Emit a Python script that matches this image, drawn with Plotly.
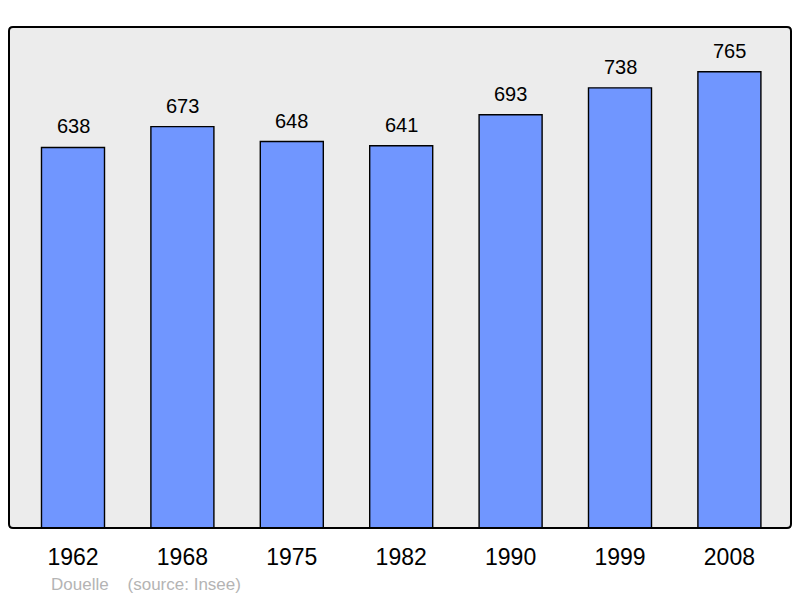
import plotly.graph_objects as go

years = ["1962", "1968", "1975", "1982", "1990", "1999", "2008"]
population = [638, 673, 648, 641, 693, 738, 765]

fig = go.Figure()
fig.add_trace(go.Bar(
    x=years, y=population,
    width=0.576,
    marker=dict(color="#7096ff", line=dict(color="#000000", width=1.4)),
    hoverinfo="skip",
))

for i, v in enumerate(population):
    fig.add_annotation(x=i, y=v, text=str(v), showarrow=False,
                       yanchor="middle", yshift=21,
                       font=dict(family="Liberation Sans, Arial", size=20, color="#000"))

fig.add_annotation(xref="paper", yref="paper", x=0.0512, y=-0.113,
                   xanchor="left", yanchor="middle", showarrow=False,
                   text="Douelle&nbsp;&nbsp;&nbsp;&nbsp;(source: Insee)",
                   font=dict(family="Liberation Sans, Arial", size=17, color="#b4b4b4"))

# rounded frame around the plot area (paper coordinates)
rx, ry = 4 / 782, 4 / 501
frame = (f"M {rx},0 L {1-rx},0 Q 1,0 1,{ry} L 1,{1-ry} Q 1,1 {1-rx},1 "
         f"L {rx},1 Q 0,1 0,{1-ry} L 0,{ry} Q 0,0 {rx},0 Z")
fig.add_shape(type="path", xref="paper", yref="paper", path=frame,
              line=dict(color="#000000", width=2), layer="above")

fig.update_layout(
    width=800, height=598,
    margin=dict(l=9, r=9, t=27, b=70),
    paper_bgcolor="#ffffff",
    plot_bgcolor="#ececec",
    showlegend=False,
    xaxis=dict(type="category", range=[-0.585, 6.563], showgrid=False, zeroline=False,
               ticks="outside", ticklen=8, tickcolor="rgba(0,0,0,0)",
               tickfont=dict(family="Liberation Sans, Arial", size=23, color="#000")),
    yaxis=dict(range=[0, 840], showgrid=False, zeroline=False, showticklabels=False),
)

fig.write_html("out.html", config={"displayModeBar": False},
               post_script="document.body.style.margin='0';document.body.style.overflow='hidden';")
